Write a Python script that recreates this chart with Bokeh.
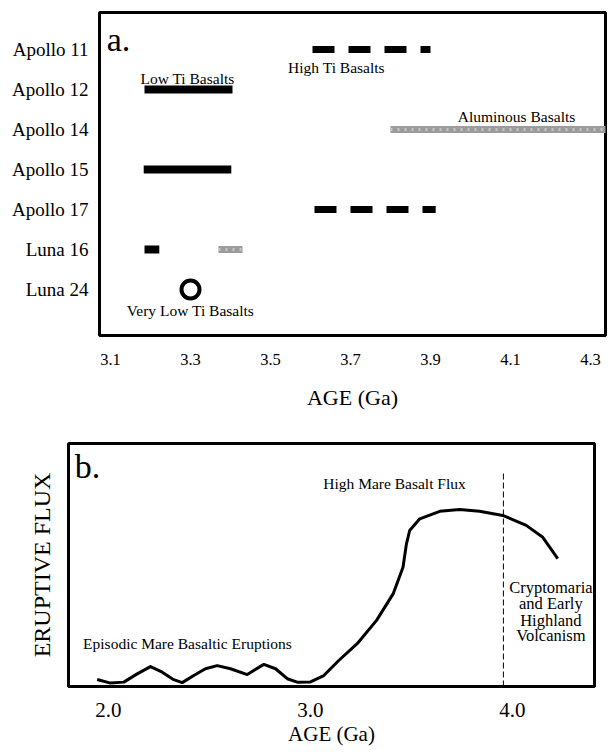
from bokeh.plotting import figure
from bokeh.models import Range1d, FixedTicker, PrintfTickFormatter
from bokeh.core.properties import value
from bokeh.embed import file_html
from bokeh.resources import INLINE

FONT = "Liberation Serif"

# ---------------- data: panel a ----------------
missions = ["Apollo 11", "Apollo 12", "Apollo 14", "Apollo 15", "Apollo 17", "Luna 16", "Luna 24"]
age_ticks = [3.1, 3.3, 3.5, 3.7, 3.9, 4.1, 4.3]

low_ti_rows = ["Apollo 12", "Apollo 15", "Luna 16"]
low_ti_start = [3.185, 3.183, 3.185]
low_ti_end = [3.405, 3.402, 3.222]

high_ti_rows = ["Apollo 11", "Apollo 17"]
high_ti_start = [3.605, 3.61]
high_ti_end = [3.90, 3.913]

alum_rows = ["Apollo 14", "Luna 16"]
alum_start = [3.80, 3.37]
alum_end = [4.36, 3.43]

vlow_ti_rows = ["Luna 24"]
vlow_ti_age = [3.30]

# ---------------- data: panel b ----------------
flux_ticks = [2.0, 3.0, 4.0]
flux_age = [1.944, 2.010, 2.076, 2.142, 2.208, 2.266, 2.323, 2.365, 2.422, 2.480,
            2.538, 2.604, 2.687, 2.719, 2.769, 2.827, 2.885, 2.934, 3.000, 3.066,
            3.140, 3.231, 3.327, 3.409, 3.458, 3.475, 3.491, 3.541, 3.640, 3.738,
            3.837, 3.952, 4.068, 4.150, 4.224]
flux_value = [2.9, 1.4, 1.8, 5.2, 8.2, 5.9, 2.8, 1.6, 4.5, 7.3,
              8.6, 7.3, 4.9, 6.6, 9.1, 7.3, 3.2, 1.8, 1.9, 4.5,
              10.7, 17.6, 27.2, 38.1, 49.1, 58.7, 64.2, 69.0, 72.1, 72.8,
              72.1, 70.4, 66.3, 61.4, 52.6]
boundary_age = 3.955

row = {m: i for i, m in enumerate(missions)}


def style(p):
    p.outline_line_color = "black"
    p.outline_line_width = 3
    p.xgrid.visible = False
    p.ygrid.visible = False
    for ax in p.axis:
        ax.axis_line_color = None
        ax.major_tick_line_color = None
        ax.minor_tick_line_color = None
        ax.major_tick_out = 0
        ax.major_tick_in = 0
        ax.major_label_text_font = FONT
        ax.axis_label_text_font = FONT
        ax.axis_label_text_font_style = "normal"
        ax.major_label_text_color = "black"
        ax.axis_label_text_color = "black"
    p.background_fill_color = "white"
    p.border_fill_color = "white"


# ---------------- panel a ----------------
pa = figure(width=608, height=428, output_backend="svg", toolbar_location=None,
            x_range=Range1d(3.0725, 4.3375), y_range=Range1d(7.15, -0.925),
            min_border_left=99, min_border_right=3, min_border_top=12, min_border_bottom=93)
style(pa)

pa.segment(x0=low_ti_start, x1=low_ti_end,
           y0=[row[r] for r in low_ti_rows], y1=[row[r] for r in low_ti_rows],
           line_color="black", line_width=8)
pa.segment(x0=high_ti_start, x1=high_ti_end,
           y0=[row[r] for r in high_ti_rows], y1=[row[r] for r in high_ti_rows],
           line_color="black", line_width=7, line_dash="22 14")
pa.segment(x0=alum_start, x1=alum_end,
           y0=[row[r] for r in alum_rows], y1=[row[r] for r in alum_rows],
           line_color="#9c9c9c", line_width=7)
pa.segment(x0=alum_start, x1=alum_end,
           y0=[row[r] for r in alum_rows], y1=[row[r] for r in alum_rows],
           line_color="#c4c4c4", line_width=3, line_dash="2 5")
pa.scatter(x=vlow_ti_age, y=[row[r] for r in vlow_ti_rows], size=18,
           fill_color="white", line_color="black", line_width=4)

pa.text(x=[3.2925, 3.665, 4.115, 3.30], y=[0.725, 0.45, 1.675, 6.525],
        text=["Low Ti Basalts", "High Ti Basalts", "Aluminous Basalts", "Very Low Ti Basalts"],
        text_font=value(FONT), text_font_size="15.5px", text_align="center",
        text_baseline="middle", text_color="black")
pa.text(x=[3.12], y=[-0.25], text=["a."], text_font=value(FONT), text_font_size="34px",
        text_align="center", text_baseline="middle", text_color="black")

pa.xaxis.ticker = FixedTicker(ticks=age_ticks)
pa.xaxis.formatter = PrintfTickFormatter(format="%.1f")
pa.xaxis.major_label_text_font_size = "16.5px"
pa.xaxis.major_label_standoff = 18
pa.xaxis.axis_label = "AGE (Ga)"
pa.xaxis.axis_label_text_font_size = "22px"
pa.xaxis.axis_label_standoff = 17

pa.yaxis.ticker = FixedTicker(ticks=list(range(len(missions))))
pa.yaxis.major_label_overrides = {i: m for i, m in enumerate(missions)}
pa.yaxis.major_label_text_font_size = "19px"
pa.yaxis.major_label_standoff = 11

# ---------------- panel b ----------------
pb = figure(width=608, height=322, output_backend="svg", toolbar_location=None,
            x_range=Range1d(1.802, 4.406), y_range=Range1d(0, 100),
            min_border_left=68, min_border_right=14, min_border_top=15, min_border_bottom=64)
style(pb)

pb.line(x=flux_age, y=flux_value, line_color="black", line_width=3, line_join="round")
pb.segment(x0=[boundary_age], x1=[boundary_age], y0=[0], y1=[88],
           line_color="black", line_width=1, line_dash="6 3")

pb.text(x=[2.391, 3.416], y=[17.7, 83.5],
        text=["Episodic Mare Basaltic Eruptions", "High Mare Basalt Flux"],
        text_font=value(FONT), text_font_size="15.5px", text_align="center",
        text_baseline="middle", text_color="black")
pb.text(x=[4.19] * 4, y=[40.7, 34.2, 27.2, 21.0],
        text=["Cryptomaria", "and Early", "Highland", "Volcanism"],
        text_font=value(FONT), text_font_size="16.5px", text_align="center",
        text_baseline="middle", text_color="black")
pb.text(x=[1.896], y=[90.5], text=["b."], text_font=value(FONT), text_font_size="34px",
        text_align="center", text_baseline="middle", text_color="black")

pb.xaxis.ticker = FixedTicker(ticks=flux_ticks)
pb.xaxis.formatter = PrintfTickFormatter(format="%.1f")
pb.xaxis.major_label_text_font_size = "21px"
pb.xaxis.major_label_standoff = 16
pb.xaxis.axis_label = "AGE (Ga)"
pb.xaxis.axis_label_text_font_size = "21px"
pb.xaxis.axis_label_standoff = 2

pb.yaxis.ticker = FixedTicker(ticks=[])
pb.yaxis.axis_label = "ERUPTIVE FLUX"
pb.yaxis.axis_label_text_font_size = "24px"
pb.yaxis.axis_label_standoff = 14

open("out.html", "w").write(file_html([pa, pb], INLINE))
